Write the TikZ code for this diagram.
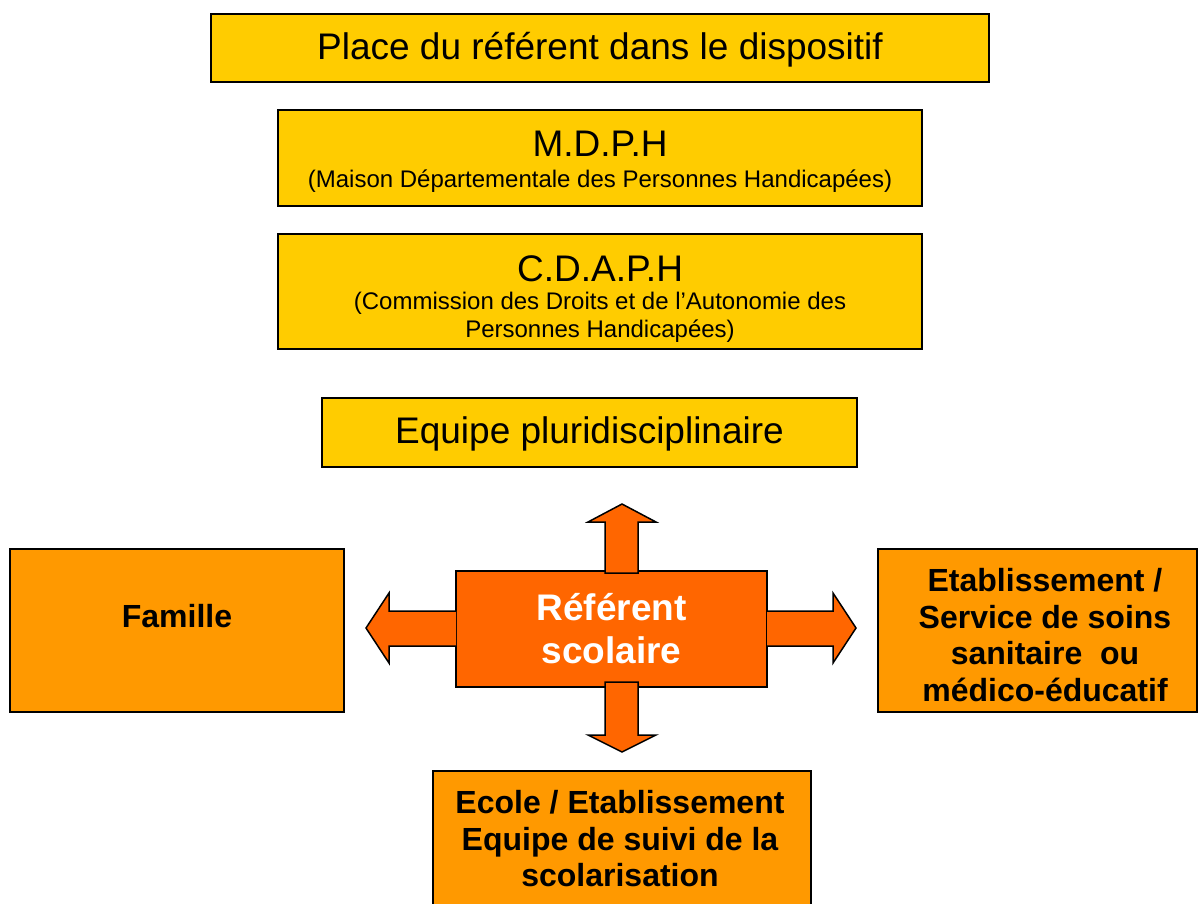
\documentclass[tikz,border=0pt]{standalone}
\usepackage{fontspec}
\setmainfont{Liberation Sans}
\definecolor{ylw}{HTML}{FFCC00}
\definecolor{org}{HTML}{FF9900}
\definecolor{dorg}{HTML}{FF6600}
\begin{document}
\begin{tikzpicture}[x=1pt,y=-1pt,
  ybox/.style={draw=black,line width=1.5pt,fill=ylw,inner sep=0pt,outer sep=0pt},
  obox/.style={draw=black,line width=2pt,fill=org,inner sep=0pt,outer sep=0pt},
  rbox/.style={draw=black,line width=1.5pt,fill=dorg,inner sep=0pt,outer sep=0pt},
  big/.style={font=\fontsize{37}{44}\selectfont,inner sep=0pt},
  small/.style={font=\fontsize{24}{28}\selectfont,inner sep=0pt,align=center},
  bold/.style={font=\fontsize{32}{36.5}\selectfont\bfseries,inner sep=0pt,align=center},
  refstyle/.style={font=\fontsize{37}{43}\selectfont\bfseries,text=white,inner sep=0pt,align=center},
  blockarrow/.style={draw=black,line width=1.5pt,fill=dorg,line join=miter}
]
\useasboundingbox (0,0) rectangle (1198,903);
% yellow boxes
\node[ybox,minimum width=778pt,minimum height=68pt] (title) at (600,48) {};
\node[big] at (600,50) {Place du référent dans le dispositif};
\node[ybox,minimum width=644pt,minimum height=96pt] (mdph) at (600,158) {};
\node[big] at (600,144) {M.D.P.H};
\node[small] at (600,181) {(Maison Départementale des Personnes Handicapées)};
\node[ybox,minimum width=644pt,minimum height=115pt] (cdaph) at (600,291.5) {};
\node[big] at (600,269) {C.D.A.P.H};
\node[small] at (600,317) {(Commission des Droits et de l’Autonomie des\\Personnes Handicapées)};
\node[ybox,minimum width=535pt,minimum height=69pt] (equipe) at (589.5,432.5) {};
\node[big] at (589.5,434) {Equipe pluridisciplinaire};
% orange boxes
\node[obox,minimum width=334pt,minimum height=163pt] (fam) at (177,630.5) {};
\node[bold] at (177,616) {Famille};
\node[obox,minimum width=319pt,minimum height=163pt] (etab) at (1037.5,630.5) {};
\node[bold] at (1045,635) {Etablissement /\\Service de soins\\sanitaire\ \ ou\\médico-éducatif};
\node[obox,minimum width=378pt,minimum height=160pt] (ecole) at (622,851) {};
\node[bold] at (620,839) {Ecole / Etablissement\\Equipe de suivi de la\\scolarisation};
% referent
\node[rbox,minimum width=311pt,minimum height=116pt] (ref) at (611.5,629) {};
\node[refstyle] at (611.5,629) {Référent\\scolaire};
% block arrows
\draw[blockarrow] (605,573) -- (605,522) -- (588,522) -- (622,504) -- (656,522) -- (638,522) -- (638,573) -- cycle;
\draw[blockarrow] (605,682) -- (605,735) -- (588,735) -- (622,752) -- (656,735) -- (638,735) -- (638,682) -- cycle;
\draw[blockarrow] (ref.west |- 0,611) -- (389,611) -- (389,593) -- (366,628) -- (389,663) -- (389,646) -- (ref.west |- 0,646);
\draw[blockarrow] (ref.east |- 0,611) -- (833,611) -- (833,593) -- (856,628) -- (833,663) -- (833,646) -- (ref.east |- 0,646);
\end{tikzpicture}
\end{document}
